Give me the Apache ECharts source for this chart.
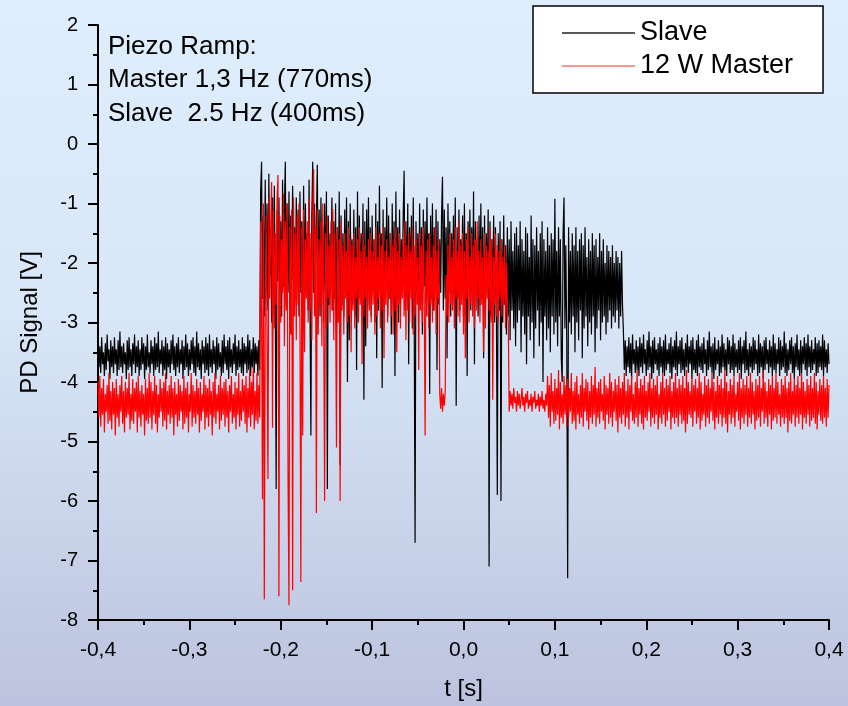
<!DOCTYPE html>
<html>
<head>
<meta charset="utf-8">
<script src="https://cdn.jsdelivr.net/npm/echarts@6/dist/echarts.min.js"></script>
<style>
html,body{margin:0;padding:0;}
#chart{width:848px;height:706px;}
</style>
</head>
<body>
<div id="chart"></div>
<script>
// sampling interval of the recorded traces [s]
const DT = 0.001;

const xTicks = [-0.4, -0.3, -0.2, -0.1, 0.0, 0.1, 0.2, 0.3, 0.4];
const yTicks = [-8, -7, -6, -5, -4, -3, -2, -1, 0, 1, 2];

// ---- Slave trace (black) ----
const slaveBase1Start = -0.400;
const slaveBase1 = [
-3.3,-3.75,-3.4,-3.85,-3.25,-3.7,-3.5,-3.9,-3.35,-3.8,-3.2,-3.65,-3.45,-3.95,-3.3,-3.75,-3.4,-3.85,-3.25,-3.7,
-3.45,-3.9,-3.3,-3.8,-3.15,-3.75,-3.4,-3.85,-3.35,-3.7,-3.5,-3.95,-3.3,-3.8,-3.25,-3.75,-3.45,-3.9,-3.35,-3.7,
-3.2,-3.85,-3.4,-3.75,-3.3,-3.9,-3.45,-3.8,-3.25,-3.7,-3.35,-3.95,-3.4,-3.8,-3.2,-3.75,-3.5,-3.85,-3.3,-3.7,
-3.4,-3.9,-3.25,-3.8,-3.35,-3.75,-3.15,-3.85,-3.45,-3.7,-3.3,-3.9,-3.4,-3.8,-3.25,-3.95,-3.35,-3.75,-3.45,-3.85,
-3.3,-3.7,-3.2,-3.8,-3.4,-3.9,-3.35,-3.75,-3.25,-3.85,-3.45,-3.7,-3.3,-3.95,-3.4,-3.8,-3.2,-3.75,-3.35,-3.9,
-3.45,-3.8,-3.3,-3.7,-3.25,-3.85,-3.4,-3.9,-3.15,-3.75,-3.35,-3.8,-3.45,-3.95,-3.3,-3.7,-3.4,-3.85,-3.25,-3.8,
-3.35,-3.9,-3.2,-3.75,-3.45,-3.85,-3.3,-3.7,-3.4,-3.95,-3.25,-3.8,-3.35,-3.75,-3.5,-3.9,-3.3,-3.85,-3.2,-3.7,
-3.4,-3.8,-3.3,-3.95,-3.25,-3.75,-3.45,-3.85,-3.35,-3.7,-3.2,-3.9,-3.4,-3.8,-3.3,-3.75,-3.45,-3.85,-3.25,-3.9,
-3.35,-3.7,-3.4,-3.85,-3.2,-3.8,-3.3,-3.9,-3.45,-3.75,-3.25,-3.85,-3.35,-3.7,-3.4,-3.9,-3.3,-3.8
];
const slaveHighStart = -0.222;
const slaveHigh = [
-0.8,-0.3,-2.6,-1.2,-2.9,-0.6,-2.4,-1.0,-2.8,-0.5,-2.2,-1.4,-3.0,-0.9,-2.5,-0.7,-2.7,-5.8,-1.1,-2.3,
-0.9,-2.6,-1.3,-2.9,-0.6,-2.4,-1.1,-0.3,-2.7,-1.0,-2.5,-0.8,-3.1,-1.2,-2.3,-0.7,-2.8,-1.4,-2.6,-0.9,
-2.4,-1.1,-2.9,-0.8,-2.5,-1.3,-3.2,-0.7,-2.6,-1.0,-2.3,-1.5,-2.8,-0.6,-2.7,-4.9,-1.2,-0.3,-2.5,-1.0,
-2.8,-1.3,-0.35,-2.6,-1.1,-2.9,-0.9,-2.4,-1.4,-3.0,-1.0,-2.5,-0.8,-5.8,-1.2,-2.7,-1.5,-2.3,-0.9,-2.8,
-1.3,-2.6,-1.0,-3.1,-1.4,-2.4,-0.8,-5.4,-1.2,-2.7,-1.5,-2.9,-1.1,-2.5,-0.9,-4.0,-1.3,-3.3,-1.0,-2.4,
-1.6,-2.7,-1.1,-2.9,-1.4,-3.8,-0.8,-3.0,-1.2,-2.6,-1.5,-2.3,-1.0,-4.3,-1.3,-3.4,-1.1,-2.5,-0.9,-2.7,
-1.4,-2.9,-1.2,-2.4,-1.6,-3.0,-1.0,-3.6,-1.3,-2.8,-0.7,-2.5,-1.5,-4.1,-1.1,-2.7,-1.4,-2.4,-0.9,-2.9,
-1.2,-2.6,-1.5,-3.2,-1.0,-2.5,-1.3,-3.9,-0.8,-2.4,-1.4,-3.0,-1.1,-2.7,-1.6,-2.5,-1.2,-0.45,-2.8,-1.3,
-2.6,-1.0,-3.7,-1.4,-2.4,-1.2,-3.1,-0.9,-2.7,-6.7,-1.3,-2.5,-1.5,-2.8,-1.0,-2.6,-1.4,-3.2,-1.1,-2.4,
-1.3,-2.7,-0.9,-2.5,-1.5,-4.2,-1.2,-2.6,-1.0,-2.8,-1.4,-2.4,-1.1,-3.8,-1.3,-2.7,-1.6,-2.5,-1.2,-0.55,
-2.8,-1.1,-2.6,-1.4,-3.6,-1.0,-2.5,-1.3,-2.9,-1.5,-2.4,-1.2,-2.7,-0.9,-4.4,-1.4,-2.6,-1.1,-2.8,-1.6,
-2.5,-1.2,-2.9,-1.0,-2.7,-1.5,-3.9,-1.3,-2.4,-1.1,-2.8,-1.4,-2.6,-0.8,-3.7,-1.3,-2.5,-1.6,-2.9,-1.2,
-2.7,-1.0,-2.6,-1.4,-3.6,-1.2,-2.8,-1.5,-2.5,-1.1,-7.1,-1.3,-2.9,-1.6,-2.6,-1.2,-3.0,-1.4,-2.7,-5.9,
-1.5,-2.8,-1.3,-6.0,-1.6,-3.0,-1.2,-2.7,-1.7,-3.2,-1.4,-2.9,-1.6,-3.3,-1.3,-2.8,-1.8,-3.1,-1.5,-3.4,
-1.4,-3.0,-1.7,-2.8,-1.3,-3.5,-1.6,-2.9,-1.8,-3.2,-1.4,-3.7,-1.5,-2.9,-1.9,-3.3,-1.2,-3.0,-1.6,-3.6,
-1.7,-3.1,-1.4,-2.8,-1.8,-3.4,-1.5,-3.0,-1.3,-4.0,-1.6,-2.9,-1.8,-3.3,-1.4,-3.1,-1.7,-3.5,-1.5,-2.9,
-1.6,-3.2,-0.92,-3.0,-1.8,-3.4,-1.4,-2.9,-1.6,-3.6,-4.0,-1.5,-0.9,-3.1,-1.7,-3.3,-7.3,-1.4,-3.0,-1.8,
-3.2,-1.5,-2.9,-1.7,-3.5,-1.4,-3.0,-1.8,-3.3,-1.6,-2.8,-1.5,-3.6,-1.7,-3.1,-1.4,-2.9,-1.9,-3.4,-1.6,
-3.0,-1.8,-3.2,-1.5,-2.9,-1.7,-3.5,-1.6,-3.1,-1.9,-2.8,-1.5,-3.3,-1.8,-3.0,-1.6,-2.9,-2.0,-3.2,-1.7,
-3.0,-1.8,-2.8,-1.9,-3.1,-1.7,-2.9,-2.0,-3.0,-1.8,-2.8,-1.9,-3.1,-2.0,-2.9,-1.8,-2.7
];
const slaveBase2Start = 0.175;
const slaveBase2 = [
-3.15,-3.8,-3.3,-3.9,-3.4,-3.75,-3.25,-3.85,-3.35,-3.95,-3.2,-3.7,-3.45,-3.85,-3.3,-3.8,-3.4,-3.9,-3.25,-3.75,
-3.35,-3.85,-3.2,-3.7,-3.45,-3.9,-3.3,-3.8,-3.15,-3.75,-3.4,-3.95,-3.3,-3.85,-3.25,-3.7,-3.45,-3.8,-3.35,-3.9,
-3.25,-3.75,-3.4,-3.85,-3.3,-3.9,-3.2,-3.8,-3.45,-3.7,-3.35,-3.85,-3.25,-3.95,-3.4,-3.75,-3.3,-3.8,-3.15,-3.9,
-3.4,-3.7,-3.3,-3.85,-3.25,-3.8,-3.45,-3.9,-3.35,-3.75,-3.2,-3.85,-3.4,-3.7,-3.3,-3.95,-3.25,-3.8,-3.45,-3.85,
-3.3,-3.9,-3.2,-3.75,-3.4,-3.8,-3.35,-3.85,-3.25,-3.7,-3.45,-3.9,-3.3,-3.8,-3.15,-3.75,-3.4,-3.85,-3.35,-3.95,
-3.25,-3.8,-3.45,-3.7,-3.3,-3.9,-3.4,-3.85,-3.2,-3.75,-3.35,-3.8,-3.45,-3.9,-3.25,-3.7,-3.3,-3.85,-3.4,-3.8,
-3.2,-3.9,-3.35,-3.75,-3.45,-3.85,-3.3,-3.8,-3.25,-3.95,-3.4,-3.7,-3.3,-3.85,-3.15,-3.8,-3.45,-3.9,-3.35,-3.75,
-3.4,-3.85,-3.25,-3.8,-3.3,-3.7,-3.45,-3.9,-3.2,-3.85,-3.35,-3.75,-3.4,-3.95,-3.3,-3.8,-3.25,-3.7,-3.45,-3.85,
-3.3,-3.75,-3.4,-3.9,-3.2,-3.8,-3.35,-3.85,-3.45,-3.7,-3.25,-3.9,-3.3,-3.8,-3.4,-3.75,-3.15,-3.85,-3.35,-3.9,
-3.45,-3.8,-3.3,-3.7,-3.25,-3.85,-3.4,-3.95,-3.35,-3.75,-3.2,-3.8,-3.45,-3.9,-3.3,-3.85,-3.4,-3.7,-3.25,-3.8,
-3.35,-3.9,-3.2,-3.75,-3.4,-3.85,-3.3,-3.8,-3.45,-3.7,-3.25,-3.9,-3.35,-3.85,-3.3,-3.75,-3.4,-3.8,-3.2,-3.9,
-3.3,-3.75,-3.45,-3.85,-3.35,-3.7
];

// ---- 12 W Master trace (red) ----
const masterBase1Start = -0.400;
const masterBase1 = [
-4.0,-4.6,-3.9,-4.75,-4.1,-4.55,-3.95,-4.85,-4.2,-4.5,-4.05,-4.7,-3.85,-4.65,-4.15,-4.8,-4.0,-4.55,-4.1,-4.9,
-3.95,-4.6,-4.2,-4.75,-4.05,-4.5,-3.9,-4.7,-4.15,-4.85,-4.0,-4.6,-4.1,-4.55,-3.85,-4.8,-4.2,-4.65,-3.95,-4.7,
-4.1,-4.5,-4.0,-4.85,-3.9,-4.6,-4.15,-4.75,-4.05,-4.55,-4.2,-4.9,-3.95,-4.65,-4.1,-4.7,-3.85,-4.6,-4.0,-4.8,
-4.15,-4.55,-3.9,-4.7,-4.05,-4.85,-4.2,-4.6,-3.95,-4.5,-4.1,-4.75,-4.0,-4.65,-3.85,-4.8,-4.15,-4.55,-4.05,-4.7,
-3.9,-4.6,-4.1,-4.9,-4.0,-4.55,-4.2,-4.75,-3.95,-4.65,-4.05,-4.5,-4.15,-4.8,-3.9,-4.7,-4.1,-4.6,-4.0,-4.85,
-4.2,-4.5,-3.85,-4.75,-4.05,-4.6,-4.15,-4.7,-3.95,-4.55,-4.1,-4.85,-4.0,-4.65,-4.2,-4.5,-3.9,-4.8,-4.05,-4.6,
-4.1,-4.75,-3.95,-4.55,-4.15,-4.9,-4.0,-4.6,-3.85,-4.7,-4.2,-4.5,-4.05,-4.8,-3.9,-4.65,-4.1,-4.55,-4.0,-4.75,
-3.95,-4.6,-4.15,-4.85,-4.05,-4.5,-3.9,-4.7,-4.2,-4.6,-4.0,-4.8,-4.1,-4.55,-3.85,-4.75,-4.15,-4.65,-3.95,-4.5,
-4.05,-4.7,-3.9,-4.85,-4.1,-4.6,-3.8,-4.75,-4.0,-4.55,-3.75,-4.8,-4.15,-4.65,-3.85,-4.7,-4.05,-4.6
];
const masterHighStart = -0.222;
const masterHigh = [
-1.3,-2.8,-5.97,-1.0,-7.65,-2.9,-1.2,-3.3,-5.63,-0.9,-2.6,-1.4,-0.64,-4.77,-1.1,-3.1,-1.5,-2.7,-0.9,-0.52,
-7.6,-1.2,-3.0,-1.6,-2.5,-0.83,-3.4,-1.3,-2.8,-1.0,-5.66,-7.75,-1.4,-3.2,-1.1,-7.5,-0.9,-2.9,-1.5,-3.3,
-1.2,-2.7,-1.0,-3.1,-7.36,-1.4,-4.9,-1.1,-3.5,-1.6,-2.6,-1.3,-3.0,-0.9,-2.8,-1.5,-3.3,-1.2,-0.42,-2.9,
-1.4,-6.2,-1.1,-3.2,-1.6,-2.7,-1.3,-3.4,-1.0,-2.9,-6.0,-1.5,-3.1,-1.2,-2.6,-1.7,-3.0,-1.3,-2.8,-1.1,
-3.3,-1.5,-2.7,-5.1,-1.4,-3.0,-1.6,-6.0,-1.3,-2.8,-1.7,-3.2,-1.5,-2.6,-1.8,-3.0,-1.4,-2.9,-1.6,-3.5,
-1.7,-2.8,-1.5,-3.1,-1.9,-2.6,-1.6,-3.0,-1.4,-2.7,-1.8,-3.7,-1.5,-2.9,-1.7,-2.6,-1.9,-3.1,-1.6,-2.8,
-1.5,-3.0,-1.8,-2.7,-1.6,-3.2,-1.4,-2.9,-1.9,-2.6,-1.5,-3.1,-1.7,-2.8,-1.4,-3.6,-1.8,-2.7,-1.6,-3.0,
-1.9,-2.6,-1.5,-2.9,-1.7,-3.2,-1.6,-2.8,-1.4,-3.5,-1.8,-2.7,-1.5,-3.1,-1.9,-2.6,-1.6,-2.9,-1.3,-3.3,
-1.7,-2.8,-1.5,-3.0,-1.8,-2.6,-1.4,-3.2,-1.7,-2.9,-1.6,-2.7,-1.9,-3.8,-1.5,-2.8,-1.7,-3.0,-1.4,-2.6,
-4.9,-1.8,-2.9,-1.6,-3.1,-1.5,-2.7,-1.9,-3.0,-1.7,-2.8,-1.4,-3.2,-1.8,-2.6,-1.6,-4.2,-4.45,-4.1,-4.5,
-4.2,-4.4,-4.15,-2.2,-2.9,-1.7,-3.0,-1.5,-2.7,-1.9,-2.8,-1.6,-3.1,-1.4,-2.6,-1.8,-2.9,-1.3,-3.0,-1.7,
-2.7,-1.5,-3.2,-1.8,-3.6,-1.6,-2.6,-1.4,-3.0,-1.9,-2.7,-1.5,-2.9,-1.7,-3.1,-1.6,-2.8,-1.3,-2.6,-1.8,
-3.0,-1.6,-2.7,-1.9,-3.5,-1.5,-3.1,-1.7,-2.6,-1.8,-2.8,-1.4,-3.0,-1.6,-4.3,-1.9,-2.7,-1.5,-2.9,-1.7,
-3.0,-1.8,-2.6,-1.6,-2.9,-1.9,-2.7,-1.7,-3.1,-2.0,-2.8,-3.0
];
const masterLowStart = 0.050;
const masterLow = [
-4.5,-4.15,-4.4,-4.2,-4.45,-4.1,-4.35,-4.25,-4.5,-4.15,-4.4,-4.2,-4.45,-4.3,-4.1,-4.4,-4.25,-4.5,-4.2,-4.35,
-4.15,-4.45,-4.3,-4.4,-4.2,-4.5,-4.25,-4.35,-4.15,-4.45,-4.3,-4.4,-4.2,-4.5,-4.25,-4.4,-4.15,-4.45,-4.3,-4.5,
-4.2,-4.4
];
const masterBase2Start = 0.092;
const masterBase2 = [
-3.9,-4.6,-4.05,-4.75,-3.85,-4.5,-4.15,-4.7,-3.95,-4.65,-4.1,-4.55,-3.8,-4.8,-4.0,-4.6,-4.2,-4.7,-3.9,-4.55,
-4.05,-4.75,-3.95,-4.6,-4.1,-4.5,-3.85,-4.7,-4.15,-4.65,-4.0,-4.8,-3.9,-4.55,-4.2,-4.7,-4.05,-4.6,-3.85,-4.75,
-4.1,-4.5,-3.95,-4.65,-4.0,-4.8,-4.15,-4.6,-3.9,-4.7,-4.05,-4.55,-3.75,-4.75,-4.1,-4.6,-4.0,-4.7,-3.95,-4.5,
-4.2,-4.65,-3.9,-4.8,-4.05,-4.55,-4.1,-4.7,-3.85,-4.6,-4.0,-4.75,-4.15,-4.5,-3.95,-4.65,-4.05,-4.85,-3.9,-4.6,
-4.1,-4.7,-4.0,-4.55,-3.85,-4.75,-4.15,-4.6,-3.95,-4.8,-4.05,-4.5,-3.9,-4.65,-4.2,-4.7,-4.0,-4.6,-3.8,-4.75,
-4.1,-4.55,-3.95,-4.7,-4.05,-4.8,-3.9,-4.6,-4.15,-4.65,-4.0,-4.5,-3.85,-4.75,-4.1,-4.6,-3.95,-4.7,-4.05,-4.55,
-3.9,-4.8,-4.2,-4.6,-4.0,-4.7,-3.85,-4.55,-4.1,-4.75,-3.95,-4.65,-4.05,-4.5,-3.9,-4.8,-4.15,-4.6,-4.0,-4.7,
-3.85,-4.6,-4.1,-4.75,-3.95,-4.55,-4.05,-4.7,-3.9,-4.65,-4.1,-4.85,-3.8,-4.7,-4.0,-4.55,-4.15,-4.6,-3.9,-4.75,
-4.05,-4.5,-3.95,-4.7,-4.1,-4.6,-3.85,-4.8,-4.0,-4.65,-4.2,-4.55,-3.9,-4.75,-4.05,-4.6,-3.95,-4.7,-4.1,-4.5,
-3.85,-4.65,-4.0,-4.8,-4.15,-4.6,-3.9,-4.7,-4.05,-4.55,-3.95,-4.75,-4.1,-4.6,-3.8,-4.7,-4.0,-4.85,-4.15,-4.55,
-3.95,-4.7,-4.05,-4.6,-3.9,-4.75,-4.2,-4.5,-4.0,-4.65,-3.85,-4.8,-4.1,-4.6,-3.95,-4.7,-4.05,-4.55,-3.9,-4.75,
-4.1,-4.6,-3.85,-4.7,-4.0,-4.55,-4.15,-4.8,-3.95,-4.65,-4.05,-4.6,-3.9,-4.75,-4.1,-4.5,-3.8,-4.7,-4.0,-4.6,
-4.15,-4.75,-3.95,-4.55,-4.05,-4.8,-3.9,-4.65,-4.1,-4.6,-3.85,-4.7,-4.0,-4.55,-4.2,-4.75,-3.95,-4.6,-4.05,-4.7,
-3.9,-4.6,-4.1,-4.85,-4.0,-4.65,-3.85,-4.7,-4.15,-4.55,-3.95,-4.75,-4.05,-4.6,-3.9,-4.7,-4.1,-4.55,-3.85,-4.8,
-4.0,-4.6,-4.15,-4.7,-3.95,-4.55,-4.05,-4.75,-3.9,-4.65,-4.1,-4.6,-3.85,-4.7,-4.0,-4.8,-4.15,-4.55,-3.95,-4.65,
-4.05,-4.7,-3.9,-4.6,-4.1,-4.75,-3.95,-4.6,-4.05
];

function build(segs) {
  const out = [];
  segs.forEach(function (s) {
    const t0 = s[0], vals = s[1];
    vals.forEach(function (v, k) { out.push([+(t0 + k * DT).toFixed(4), v]); });
  });
  return out;
}

const slaveData = build([[slaveBase1Start, slaveBase1], [slaveHighStart, slaveHigh], [slaveBase2Start, slaveBase2]]);
const masterData = build([[masterBase1Start, masterBase1], [masterHighStart, masterHigh], [masterLowStart, masterLow], [masterBase2Start, masterBase2]]);

const FONT = 'Liberation Sans, Arial, sans-serif';
const chart = echarts.init(document.getElementById('chart'), null, {renderer: 'canvas'});

chart.setOption({
  animation: false,
  backgroundColor: {
    type: 'linear', x: 0, y: 0, x2: 0, y2: 1,
    colorStops: [
      {offset: 0, color: '#dfeefd'},
      {offset: 0.45, color: '#d8e6f7'},
      {offset: 1, color: '#bcc3de'}
    ]
  },
  grid: {left: 98, right: 19, top: 25, bottom: 86, containLabel: false},
  legend: {
    orient: 'vertical', left: 533, top: 6,
    padding: [12, 30, 12, 29],
    itemGap: 3, itemWidth: 73, itemHeight: 1.5, icon: 'rect',
    backgroundColor: '#ffffff', borderColor: '#000000', borderWidth: 1.5, borderRadius: 0,
    textStyle: {fontSize: 27, lineHeight: 30, color: '#000', fontFamily: FONT},
    data: [
      {name: 'Slave', itemStyle: {color: '#222222'}},
      {name: '12 W Master', itemStyle: {color: '#ff7070'}}
    ]
  },
  xAxis: {
    type: 'value', min: xTicks[0], max: xTicks[xTicks.length - 1], interval: 0.1,
    name: 't [s]', nameLocation: 'middle', nameGap: 57,
    nameTextStyle: {fontSize: 24, color: '#000', fontFamily: FONT},
    axisLine: {show: true, onZero: false, lineStyle: {color: '#000', width: 2}},
    axisTick: {show: true, length: 10, lineStyle: {color: '#000', width: 2}},
    minorTick: {show: true, splitNumber: 2, length: 5, lineStyle: {color: '#000', width: 2}},
    splitLine: {show: false},
    axisLabel: {
      margin: 20, fontSize: 21, color: '#000', fontFamily: FONT,
      formatter: function (v) { if (Math.abs(v) < 1e-9) v = 0; return v.toFixed(1).replace('.', ','); }
    }
  },
  yAxis: {
    type: 'value', min: yTicks[0], max: yTicks[yTicks.length - 1], interval: 1,
    name: 'PD Signal [V]', nameLocation: 'middle', nameGap: 56,
    nameTextStyle: {fontSize: 24, color: '#000', fontFamily: FONT},
    axisLine: {show: true, onZero: false, lineStyle: {color: '#000', width: 2}},
    axisTick: {show: true, length: 10, lineStyle: {color: '#000', width: 2}},
    minorTick: {show: true, splitNumber: 2, length: 5, lineStyle: {color: '#000', width: 2}},
    splitLine: {show: false},
    axisLabel: {margin: 20, fontSize: 20, color: '#000', fontFamily: FONT}
  },
  graphic: [{
    type: 'text', left: 108, top: 30, z: 10,
    style: {
      text: 'Piezo Ramp:\nMaster 1,3 Hz (770ms)\nSlave  2.5 Hz (400ms)',
      fontSize: 26, lineHeight: 33.5, fill: '#000', fontFamily: FONT
    }
  }],
  series: [
    {
      name: 'Slave', type: 'line', data: slaveData, showSymbol: false, symbol: 'none',
      sampling: null, color: '#000000', lineStyle: {width: 1.2, color: '#000000'}, z: 2
    },
    {
      name: '12 W Master', type: 'line', data: masterData, showSymbol: false, symbol: 'none',
      sampling: null, color: '#ff0000', lineStyle: {width: 1.2, color: '#ff0000'}, z: 3
    }
  ]
});
</script>
</body>
</html>
